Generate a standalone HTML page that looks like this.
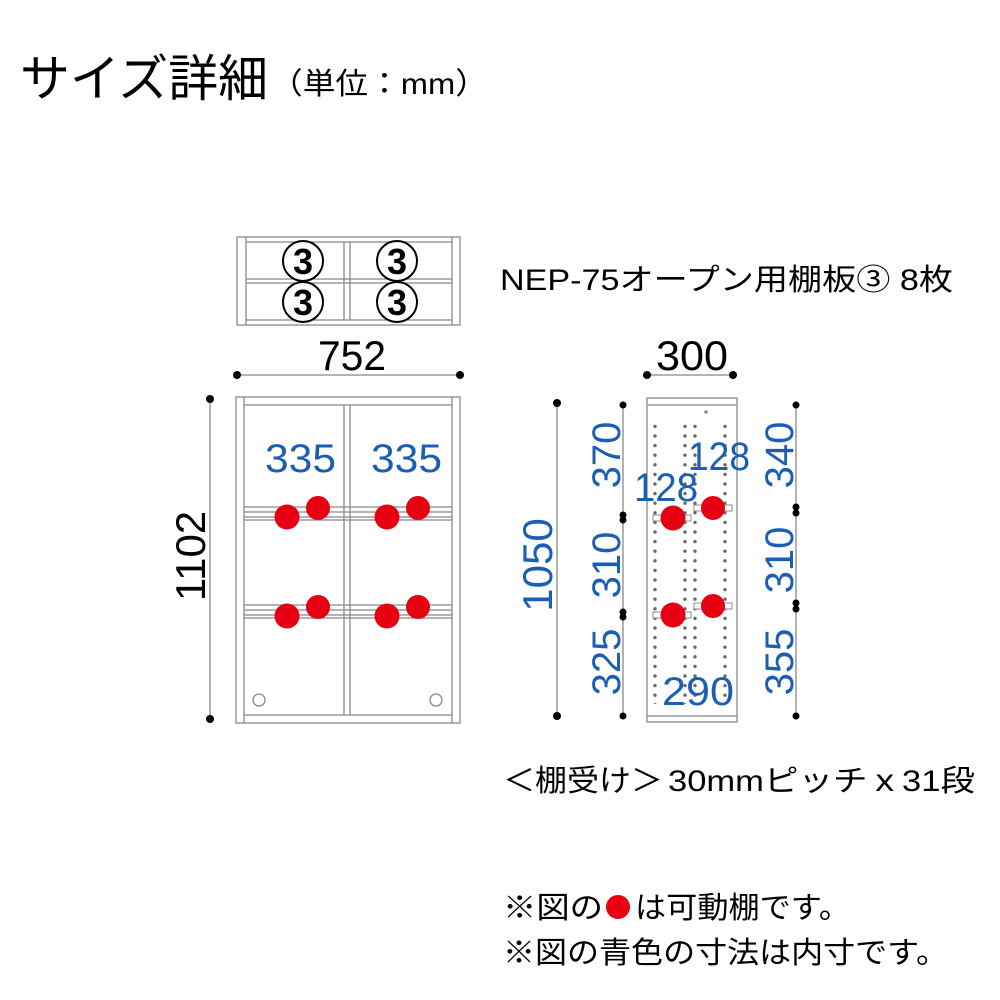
<!DOCTYPE html>
<html><head><meta charset="utf-8"><style>
html,body{margin:0;padding:0;background:#fff;}
svg{display:block;}
text{font-family:"Liberation Sans","Noto Sans CJK JP",sans-serif;}
</style></head><body>
<svg width="1000" height="1000" viewBox="0 0 1000 1000" xmlns="http://www.w3.org/2000/svg">
<defs>
<pattern id="pd" x="0" y="412" width="10" height="9.6" patternUnits="userSpaceOnUse">
<circle cx="5" cy="4.8" r="1.7" fill="#666"/>
</pattern>
</defs>
<text x="20" y="96" font-size="50" textLength="248" lengthAdjust="spacingAndGlyphs" fill="#000">サイズ詳細</text>
<text x="270" y="94" font-size="30" textLength="218" lengthAdjust="spacingAndGlyphs" fill="#000">（単位：mm）</text>

<g fill="none" stroke="#888" stroke-width="1.3">
<rect x="237" y="237" width="223" height="88"/>
<line x1="246" y1="237" x2="246" y2="325"/>
<line x1="452" y1="237" x2="452" y2="325"/>
<line x1="246" y1="242" x2="452" y2="242"/>
<line x1="246" y1="320" x2="452" y2="320"/>
<line x1="344" y1="242" x2="344" y2="320"/>
<line x1="350" y1="242" x2="350" y2="320"/>
<line x1="246" y1="279" x2="452" y2="279"/>
<line x1="246" y1="283" x2="452" y2="283"/>
</g>
<g fill="#fff" stroke="#000" stroke-width="2">
<circle cx="303" cy="261" r="20"/><circle cx="303" cy="302" r="20"/>
<circle cx="397" cy="261" r="20"/><circle cx="397" cy="302" r="20"/>
</g>
<g font-size="36" font-weight="bold" text-anchor="middle" fill="#000">
<text x="303" y="274">3</text><text x="303" y="315">3</text>
<text x="397" y="274">3</text><text x="397" y="315">3</text>
</g>
<text x="500" y="290" font-size="30" textLength="453" lengthAdjust="spacingAndGlyphs" fill="#000">NEP-75オープン用棚板③ 8枚</text>

<text x="318" y="370" font-size="42" textLength="68" lengthAdjust="spacingAndGlyphs" fill="#000">752</text>
<line x1="237" y1="375" x2="460" y2="375" stroke="#888" stroke-width="1.3"/>
<circle cx="237" cy="375" r="4" fill="#000"/><circle cx="460" cy="375" r="4" fill="#000"/>

<line x1="210" y1="399" x2="210" y2="719" stroke="#888" stroke-width="1.3"/>
<circle cx="210" cy="399" r="4" fill="#000"/><circle cx="210" cy="719" r="4" fill="#000"/>
<text transform="translate(205,556) rotate(-90)" font-size="42" text-anchor="middle" fill="#000">1102</text>

<g fill="none" stroke="#888" stroke-width="1.3">
<rect x="236" y="397" width="224" height="326"/>
<line x1="244" y1="397" x2="244" y2="723"/>
<line x1="452" y1="397" x2="452" y2="723"/>
<line x1="244" y1="405" x2="452" y2="405"/>
<line x1="244" y1="715" x2="452" y2="715"/>
<line x1="344" y1="405" x2="344" y2="715"/>
<line x1="350" y1="405" x2="350" y2="715"/>
<line x1="244" y1="507" x2="452" y2="507"/>
<line x1="244" y1="512" x2="452" y2="512"/>
<line x1="244" y1="517" x2="452" y2="517"/>
<line x1="244" y1="520" x2="452" y2="520"/>
<line x1="244" y1="605" x2="452" y2="605"/>
<line x1="244" y1="610" x2="452" y2="610"/>
<line x1="244" y1="615" x2="452" y2="615"/>
<line x1="244" y1="618" x2="452" y2="618"/>
<circle cx="259" cy="700" r="6"/><circle cx="436" cy="700" r="6"/>
</g>
<g fill="#e60012">
<circle cx="287" cy="517" r="12.5"/><circle cx="318" cy="508" r="12"/>
<circle cx="387" cy="517" r="12.5"/><circle cx="418" cy="508" r="12"/>
<circle cx="287" cy="616" r="12.5"/><circle cx="318" cy="607" r="12"/>
<circle cx="387" cy="616" r="12.5"/><circle cx="418" cy="607" r="12"/>
</g>
<g font-size="40" fill="#1a5fb4">
<text x="265" y="472" textLength="71" lengthAdjust="spacingAndGlyphs">335</text>
<text x="371" y="472" textLength="71" lengthAdjust="spacingAndGlyphs">335</text>
</g>

<text x="656" y="370" font-size="42" textLength="72" lengthAdjust="spacingAndGlyphs" fill="#000">300</text>
<line x1="647" y1="375" x2="733" y2="375" stroke="#888" stroke-width="1.3"/>
<circle cx="647" cy="375" r="4" fill="#000"/><circle cx="733" cy="375" r="4" fill="#000"/>

<line x1="557" y1="403" x2="557" y2="716" stroke="#888" stroke-width="1.3"/>
<circle cx="557" cy="403" r="4" fill="#000"/><circle cx="557" cy="716" r="4" fill="#000"/>
<text transform="translate(552,565) rotate(-90)" font-size="42" text-anchor="middle" fill="#1a5fb4">1050</text>

<line x1="623" y1="405" x2="623" y2="716" stroke="#888" stroke-width="1.3"/>
<g fill="#000">
<circle cx="623" cy="405" r="3.5"/><circle cx="623" cy="515" r="3.5"/><circle cx="623" cy="520" r="3.5"/>
<circle cx="623" cy="612" r="3.5"/><circle cx="623" cy="617" r="3.5"/><circle cx="623" cy="716" r="3.5"/>
</g>
<g font-size="40" fill="#1a5fb4" text-anchor="middle">
<text transform="translate(620,455) rotate(-90)">370</text>
<text transform="translate(620,565) rotate(-90)">310</text>
<text transform="translate(620,662) rotate(-90)">325</text>
</g>
<line x1="796" y1="405" x2="796" y2="716" stroke="#888" stroke-width="1.3"/>
<g fill="#000">
<circle cx="796" cy="405" r="3.5"/><circle cx="796" cy="507" r="3.5"/><circle cx="796" cy="513" r="3.5"/>
<circle cx="796" cy="603" r="3.5"/><circle cx="796" cy="609" r="3.5"/><circle cx="796" cy="716" r="3.5"/>
</g>
<g font-size="40" fill="#1a5fb4" text-anchor="middle">
<text transform="translate(793,455) rotate(-90)">340</text>
<text transform="translate(793,560) rotate(-90)">310</text>
<text transform="translate(793,662) rotate(-90)">355</text>
</g>

<g fill="none" stroke="#888" stroke-width="1.3">
<rect x="647" y="398" width="90" height="324"/>
<line x1="647" y1="405" x2="737" y2="405"/>
<line x1="647" y1="716" x2="737" y2="716"/>
</g>
<circle cx="706" cy="412" r="1.8" fill="#888"/>
<rect x="652" y="419" width="10" height="285" fill="url(#pd)"/>
<rect x="680" y="419" width="10" height="285" fill="url(#pd)"/>
<rect x="693" y="419" width="10" height="285" fill="url(#pd)"/>
<rect x="722" y="419" width="10" height="285" fill="url(#pd)"/>
<g fill="#fff" stroke="#888" stroke-width="1">
<rect x="653" y="515" width="38" height="6"/>
<rect x="694" y="505" width="38" height="6"/>
<rect x="653" y="612" width="38" height="6"/>
<rect x="694" y="603" width="38" height="6"/>
</g>
<g fill="#e60012">
<circle cx="673" cy="518" r="12.5"/><circle cx="713" cy="508" r="12"/>
<circle cx="673" cy="615" r="12.5"/><circle cx="713" cy="606" r="12"/>
</g>
<g font-size="40" fill="#1a5fb4">
<text x="634" y="501" textLength="64" lengthAdjust="spacingAndGlyphs">128</text>
<text x="688" y="470" textLength="62" lengthAdjust="spacingAndGlyphs">128</text>
<text x="662" y="705" textLength="72" lengthAdjust="spacingAndGlyphs">290</text>
</g>

<text x="503" y="791" font-size="30" fill="#000"><tspan textLength="160" lengthAdjust="spacingAndGlyphs">＜棚受け＞</tspan><tspan x="668" textLength="307" lengthAdjust="spacingAndGlyphs">30mmピッチｘ31段</tspan></text>
<text x="503" y="918" font-size="30" fill="#000" textLength="100" lengthAdjust="spacingAndGlyphs">※図の</text>
<circle cx="618" cy="907" r="12" fill="#e60012"/>
<text x="635" y="918" font-size="30" fill="#000" textLength="215" lengthAdjust="spacingAndGlyphs">は可動棚です。</text>
<text x="503" y="963" font-size="30" fill="#000" textLength="445" lengthAdjust="spacingAndGlyphs">※図の青色の寸法は内寸です。</text>
</svg>
</body></html>
